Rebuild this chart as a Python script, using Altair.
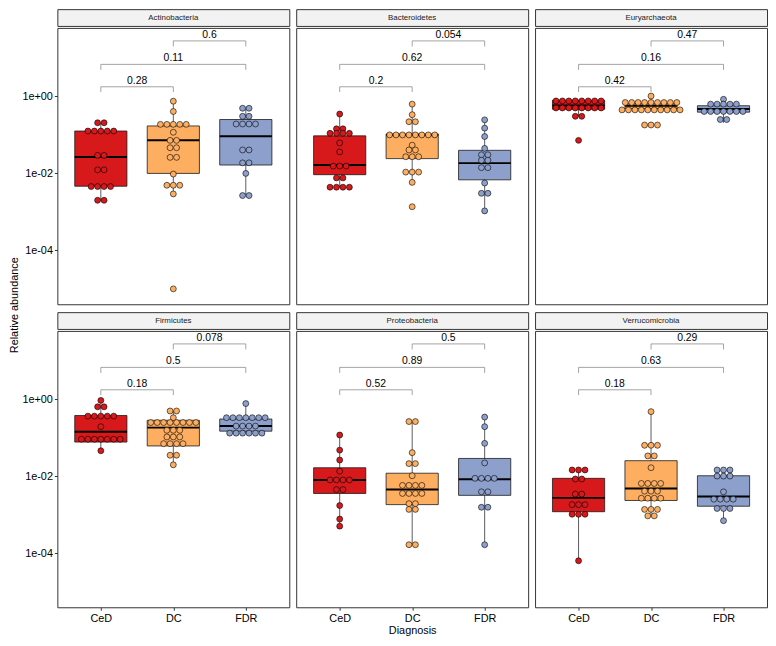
import altair as alt
import pandas as pd

# ---------------- data ----------------
groups = ["CeD", "DC", "FDR"]
group_colors = ["#D7191C", "#FDAE61", "#8DA0CB"]
phyla = ["Actinobacteria", "Bacteroidetes", "Euryarchaeota",
         "Firmicutes", "Proteobacteria", "Verrucomicrobia"]

# relative abundance per sample (one value per dot)
actino_ced = [0.207, 0.207, 0.126, 0.126, 0.126, 0.126, 0.126, 0.0293, 0.0293,
              0.0124, 0.0124, 0.00455, 0.00455, 0.00455, 0.00455, 0.0020, 0.0020]
actino_dc = [0.75, 0.406, 0.188, 0.188, 0.188, 0.188, 0.188, 0.117, 0.0722, 0.0722,
             0.0464, 0.0464, 0.0261, 0.0261, 0.0096, 0.00492, 0.00492, 0.00492,
             0.00293, 0.00001]
actino_fdr = [0.492, 0.492, 0.304, 0.304, 0.192, 0.192, 0.192, 0.192, 0.0406, 0.0406,
              0.0188, 0.0188, 0.01, 0.00266, 0.00266]

bact_ced = [0.348, 0.144, 0.144, 0.110, 0.110, 0.110, 0.110, 0.0619, 0.0362,
            0.0155, 0.0155, 0.0155, 0.00764, 0.00764, 0.00438, 0.00438, 0.00438, 0.00438]
bact_dc = [0.631, 0.335, 0.22, 0.22, 0.1, 0.1, 0.1, 0.1, 0.1, 0.1, 0.1, 0.1,
           0.0541, 0.0406, 0.0406, 0.0271, 0.0271, 0.0271, 0.0108, 0.0108, 0.0108,
           0.00584, 0.00136]
bact_fdr = [0.246, 0.150, 0.0908, 0.0447, 0.0305, 0.0305, 0.022, 0.022, 0.0141, 0.0141,
            0.00562, 0.00304, 0.00304, 0.00106]

eury_ced = [0.764] * 8 + [0.501] * 8 + [0.304, 0.304, 0.0722]
eury_dc = [1.02] + [0.695] * 9 + [0.447] * 10 + [0.181, 0.181, 0.181]
eury_fdr = [0.841] + [0.631] * 5 + [0.406] * 7 + [0.251, 0.251]

firm_ced = [0.944, 0.643, 0.643, 0.369, 0.369, 0.369, 0.369, 0.369, 0.196] + [0.0926] * 7 + [0.0464]
firm_dc = [0.501, 0.501, 0.335] + [0.251] * 8 + [0.158, 0.158, 0.158, 0.106, 0.106, 0.106,
                                                   0.0708, 0.0708, 0.0708, 0.0708, 0.0355, 0.0355, 0.02]
firm_fdr = [0.78] + [0.335] * 7 + [0.203] * 4 + [0.133] * 6

prot_ced = [0.119, 0.0482, 0.0266, 0.0136, 0.0081, 0.0081, 0.0081, 0.0081,
            0.00455, 0.00455, 0.00175, 0.00078, 0.00051]
prot_dc = [0.266, 0.266, 0.0414, 0.0215, 0.0215, 0.0104, 0.00584, 0.00584, 0.00584, 0.00584,
           0.00361, 0.00361, 0.00361, 0.00361, 0.00196, 0.00196, 0.00139, 0.00139,
           0.000168, 0.000168]
prot_fdr = [0.348, 0.196, 0.0722, 0.0224, 0.00891, 0.00891, 0.00891, 0.00891,
            0.00398, 0.00398, 0.00158, 0.00158, 0.000168]

verr_ced = [0.0147, 0.0147, 0.0147, 0.00857, 0.00857, 0.00348, 0.00348, 0.00185, 0.00185,
            0.00185, 0.00104, 0.00104, 0.00104, 0.0000643]
verr_dc = [0.482, 0.0643, 0.0643, 0.0643, 0.0341, 0.0341, 0.0168, 0.00656, 0.00656, 0.00656,
           0.00656, 0.00414, 0.00414, 0.00414, 0.00271, 0.00271, 0.00271, 0.00271,
           0.00139, 0.00139, 0.00139, 0.000944, 0.000944]
verr_fdr = [0.0147, 0.0147, 0.0147, 0.0102, 0.0102, 0.0102, 0.00398, 0.00256, 0.00256,
            0.00256, 0.00256, 0.00147, 0.00147, 0.00147, 0.000708]

dot_lists = [[actino_ced, actino_dc, actino_fdr],
             [bact_ced, bact_dc, bact_fdr],
             [eury_ced, eury_dc, eury_fdr],
             [firm_ced, firm_dc, firm_fdr],
             [prot_ced, prot_dc, prot_fdr],
             [verr_ced, verr_dc, verr_fdr]]

# box statistics, order: phylum x (CeD, DC, FDR)
whisker_hi = [0.207, 0.75, 0.492,
              0.348, 0.631, 0.246,
              0.794, 1.02, 0.841,
              0.944, 0.501, 0.78,
              0.119, 0.266, 0.348,
              0.0147, 0.482, 0.0147]
q3 = [0.126, 0.171, 0.251,
      0.0944, 0.106, 0.0398,
      0.794, 0.643, 0.573,
      0.383, 0.287, 0.31,
      0.0168, 0.0121, 0.0293,
      0.00891, 0.0256, 0.0104]
median = [0.0266, 0.0722, 0.0926,
          0.0165, 0.1, 0.0185,
          0.584, 0.573, 0.473,
          0.144, 0.185, 0.203,
          0.0081, 0.00455, 0.00841,
          0.00277, 0.00482, 0.00299]
q1 = [0.00464, 0.01, 0.0165,
      0.00926, 0.0242, 0.00681,
      0.464, 0.482, 0.39,
      0.078, 0.0619, 0.15,
      0.00361, 0.00185, 0.00322,
      0.00121, 0.00237, 0.00168]
whisker_lo = [0.0020, 0.00293, 0.00266,
              0.00438, 0.00584, 0.00106,
              0.304, 0.447, 0.207,
              0.0464, 0.02, 0.133,
              0.00051, 0.000168, 0.000168,
              0.0000643, 0.000944, 0.000708]

# p-values of the pairwise comparisons
p_ced_dc = ["0.28", "0.2", "0.42", "0.18", "0.52", "0.18"]
p_ced_fdr = ["0.11", "0.62", "0.16", "0.5", "0.89", "0.63"]
p_dc_fdr = ["0.6", "0.054", "0.47", "0.078", "0.5", "0.29"]

y_ticks = [1, 0.01, 0.0001]
y_tick_labels = ["1e+00", "1e-02", "1e-04"]

# ---------------- layout constants ----------------
PW, PH, SH = 235, 280, 17
X_DOMAIN = [0.4, 3.6]
Y_DOMAIN = [10 ** -5.4, 10 ** 1.78]
DOT_STEP = 0.089
BOX_HALF = 0.36
comparisons = [(1, 2), (1, 3), (2, 3)]
bracket_level = [1.78, 6.8, 27.7]
bracket_tick = [1.3, 4.9, 19.9]
FONT = "Liberation Sans"

# ---------------- build tables ----------------
dot_rows = []
for ph, lists in zip(phyla, dot_lists):
    for gi, (g, vals) in enumerate(zip(groups, lists)):
        counts = {}
        for v in vals:
            counts[v] = counts.get(v, 0) + 1
        seen = {}
        for v in vals:
            k = seen.get(v, 0)
            seen[v] = k + 1
            dot_rows.append({"phylum": ph, "group": g, "value": v,
                             "x": gi + 1 + (k - (counts[v] - 1) / 2) * DOT_STEP})
dots = pd.DataFrame(dot_rows)

box_rows = []
for pi, ph in enumerate(phyla):
    for gi, g in enumerate(groups):
        i = pi * 3 + gi
        box_rows.append({"phylum": ph, "group": g, "pos": gi + 1,
                         "xl": gi + 1 - BOX_HALF, "xr": gi + 1 + BOX_HALF,
                         "lo": whisker_lo[i], "q1": q1[i], "med": median[i],
                         "q3": q3[i], "hi": whisker_hi[i]})
boxes = pd.DataFrame(box_rows)

br_rows, tick_rows = [], []
for pi, ph in enumerate(phyla):
    for ci, ((a, b), labels) in enumerate(zip(comparisons, [p_ced_dc, p_ced_fdr, p_dc_fdr])):
        br_rows.append({"phylum": ph, "x1": a, "x2": b, "xm": (a + b) / 2,
                        "y": bracket_level[ci], "label": labels[pi]})
        for xx in (a, b):
            tick_rows.append({"phylum": ph, "x": xx, "y": bracket_level[ci], "y2": bracket_tick[ci]})
brackets = pd.DataFrame(br_rows)
bticks = pd.DataFrame(tick_rows)

x_label_expr = "[" + ",".join("'%s'" % g for g in groups) + "][datum.value - 1]"
y_label_expr = "''"
for t, lab in zip(reversed(y_ticks), reversed(y_tick_labels)):
    y_label_expr = "(abs(log(datum.value) - log(%g)) < 0.1 ? '%s' : %s)" % (t, lab, y_label_expr)

xscale = alt.Scale(domain=X_DOMAIN, nice=False, zero=False)
yscale = alt.Scale(type="log", domain=Y_DOMAIN, nice=False)
cscale = alt.Scale(domain=groups, range=group_colors)


def xenc(field, row, col):
    if row == 1:
        axis = alt.Axis(values=[1, 2, 3], labelExpr=x_label_expr, grid=False, domain=False,
                        tickSize=3, tickColor="#333333", labelFontSize=11, labelColor="black",
                        labelPadding=2, titleFontSize=11, titleFontWeight="normal",
                        titleColor="black", titlePadding=2,
                        title=("Diagnosis" if col == 1 else None))
    else:
        axis = None
    return alt.X(field, type="quantitative", scale=xscale, axis=axis)


def yenc(field, col):
    if col == 0:
        axis = alt.Axis(values=y_ticks, labelExpr=y_label_expr, grid=False, domain=False,
                        tickSize=3, tickColor="#333333", labelFontSize=11, labelColor="black",
                        labelPadding=2, title=None)
    else:
        axis = None
    return alt.Y(field, type="quantitative", scale=yscale, axis=axis)


color = alt.Color("group:N", scale=cscale, legend=None)


def panel(pi):
    ph = phyla[pi]
    row, col = divmod(pi, 3)
    b = boxes[boxes.phylum == ph]
    d = dots[dots.phylum == ph]
    br = brackets[brackets.phylum == ph]
    bt = bticks[bticks.phylum == ph]

    whisk = alt.Chart(b).mark_rule(color="#333333", strokeWidth=0.8).encode(
        x=xenc("pos", row, col), y=yenc("lo", col), y2="hi")
    box = alt.Chart(b).mark_rect(stroke="#1a1a1a", strokeWidth=0.8).encode(
        x=xenc("xl", row, col), x2="xr", y=yenc("q1", col), y2="q3", color=color)
    med = alt.Chart(b).mark_rule(color="black", strokeWidth=2).encode(
        x=xenc("xl", row, col), x2="xr", y=yenc("med", col))
    pts = alt.Chart(d).mark_circle(size=36, opacity=1, stroke="black", strokeWidth=0.6).encode(
        x=xenc("x", row, col), y=yenc("value", col), color=color)
    hline = alt.Chart(br).mark_rule(color="#8c8c8c", strokeWidth=0.8).encode(
        x=xenc("x1", row, col), x2="x2", y=yenc("y", col))
    vline = alt.Chart(bt).mark_rule(color="#8c8c8c", strokeWidth=0.8).encode(
        x=xenc("x", row, col), y=yenc("y", col), y2="y2")
    txt = alt.Chart(br).mark_text(fontSize=10.5, baseline="alphabetic", dy=-3, color="black").encode(
        x=xenc("xm", row, col), y=yenc("y", col), text="label:N")

    plot = alt.layer(whisk, box, med, pts, hline, vline, txt).properties(width=PW, height=PH)

    strip = alt.Chart(pd.DataFrame({"name": [ph]})).mark_text(
        fontSize=8, color="#1A1A1A", baseline="middle", align="center").encode(
        text="name:N", x=alt.value(PW / 2), y=alt.value(SH / 2 + 0.5)).properties(
        width=PW, height=SH, view=alt.ViewBackground(fill="#F2F2F2", stroke="#333333"))
    return alt.vconcat(strip, plot, spacing=0)


row1 = alt.hconcat(panel(0), panel(1), panel(2), spacing=5)
row2 = alt.hconcat(panel(3), panel(4), panel(5), spacing=5)
grid = alt.vconcat(row1, row2, spacing=6)

total_h = 2 * (SH + PH) + 6
ytitle = alt.Chart(pd.DataFrame({"t": ["Relative abundance"]})).mark_text(
    angle=270, fontSize=11, color="black", baseline="middle", align="center").encode(
    text="t:N", x=alt.value(5), y=alt.value(total_h / 2)).properties(
    width=10, height=total_h, view=alt.ViewBackground(stroke="transparent"))

chart = alt.hconcat(ytitle, grid, spacing=0).properties(
    padding={"left": 0, "top": -4, "right": 0, "bottom": 0}).configure(
    font=FONT).configure_view(stroke="#333333", strokeWidth=1)

chart.save("out.html", embed_options={"renderer": "svg", "actions": False})
